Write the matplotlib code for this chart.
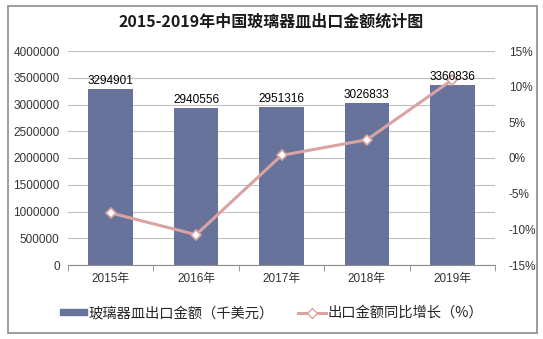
import numpy as np
import matplotlib.pyplot as plt
from matplotlib.patches import Rectangle
from matplotlib.ticker import FuncFormatter

plt.rcParams['font.family'] = ['Liberation Sans', 'Noto Sans CJK SC', 'DejaVu Sans']

years = ['2015年', '2016年', '2017年', '2018年', '2019年']
export_value = [3294901, 2940556, 2951316, 3026833, 3360836]
growth_pct = [-7.7, -10.75, 0.37, 2.56, 10.96]

bar_color = '#67739a'
line_color = '#d9a3a3'
text_color = '#333333'

fig = plt.figure(figsize=(5.43, 3.39), dpi=100)
fig.patches.append(Rectangle((8 / 543, 6 / 339), 529 / 543, 327 / 339,
                             transform=fig.transFigure, fill=False,
                             edgecolor='#8c8c8c', linewidth=1.2))

ax1 = fig.add_axes([68 / 543, 1 - 265 / 339, 427 / 543, 214 / 339])
x = np.arange(len(years))
ax1.bar(x, export_value, width=0.52, color=bar_color, zorder=2)

ax1.set_xlim(-0.5, 4.5)
ax1.set_ylim(0, 4000000)
ax1.set_yticks(np.arange(0, 4000001, 500000))
ax1.yaxis.set_major_formatter(FuncFormatter(lambda v, p: f'{int(v)}'))
ax1.grid(axis='y', color='#bfbfbf', linewidth=0.8, zorder=0)
ax1.set_xticks(x)
ax1.set_xticklabels(years)
ax1.set_xticks(np.arange(-0.5, 5, 1), minor=True)
ax1.tick_params(axis='x', which='major', length=0, labelsize=8.5,
                labelcolor=text_color, pad=6)
ax1.tick_params(axis='x', which='minor', length=4, color='#8c8c8c')
ax1.tick_params(axis='y', length=0, labelsize=8.5, labelcolor=text_color, pad=6)
for s in ['top', 'right', 'left']:
    ax1.spines[s].set_visible(False)
ax1.spines['bottom'].set_color('#8c8c8c')

ax2 = ax1.twinx()
ax2.plot(x, growth_pct, color=line_color, linewidth=2.2, marker='D',
         markersize=5.5, markerfacecolor='white', markeredgecolor=line_color,
         markeredgewidth=1.2, zorder=4)
ax2.set_ylim(-15, 15)
ax2.set_yticks(np.arange(-15, 16, 5))
ax2.yaxis.set_major_formatter(FuncFormatter(lambda v, p: f'{int(v)}%'))
ax2.tick_params(axis='y', length=0, labelsize=8.5, labelcolor=text_color, pad=10)
for s in ['top', 'right', 'left', 'bottom']:
    ax2.spines[s].set_visible(False)

# data labels drawn over the line
for xi, v in zip(x, export_value):
    ax2.text(xi, v + 40000, str(v), ha='center', va='bottom',
             fontsize=8.5, color='black', zorder=6, transform=ax1.transData)

fig.text(0.5, 1 - 22 / 339, '2015-2019年中国玻璃器皿出口金额统计图',
         ha='center', va='center', fontsize=11.5, fontweight='bold',
         color='#1a1a1a', family=['Noto Sans CJK SC'])

h1 = plt.Rectangle((0, 0), 1, 1, color=bar_color)
h2, = ax2.plot([], [], color=line_color, linewidth=2.2, marker='D',
               markersize=5.5, markerfacecolor='white',
               markeredgecolor=line_color)
fig.legend([h1, h2], ['玻璃器皿出口金额（千美元）', '出口金额同比增长（%）'],
           loc='center', bbox_to_anchor=(0.5, 1 - 313 / 339), ncol=2,
           frameon=False, handlelength=1.9, handleheight=0.3,
           handletextpad=0.15, columnspacing=1.7, labelcolor='#262626',
           prop={'family': ['Noto Sans CJK SC'], 'size': 10.3})

fig.savefig('out.png', dpi=100)
